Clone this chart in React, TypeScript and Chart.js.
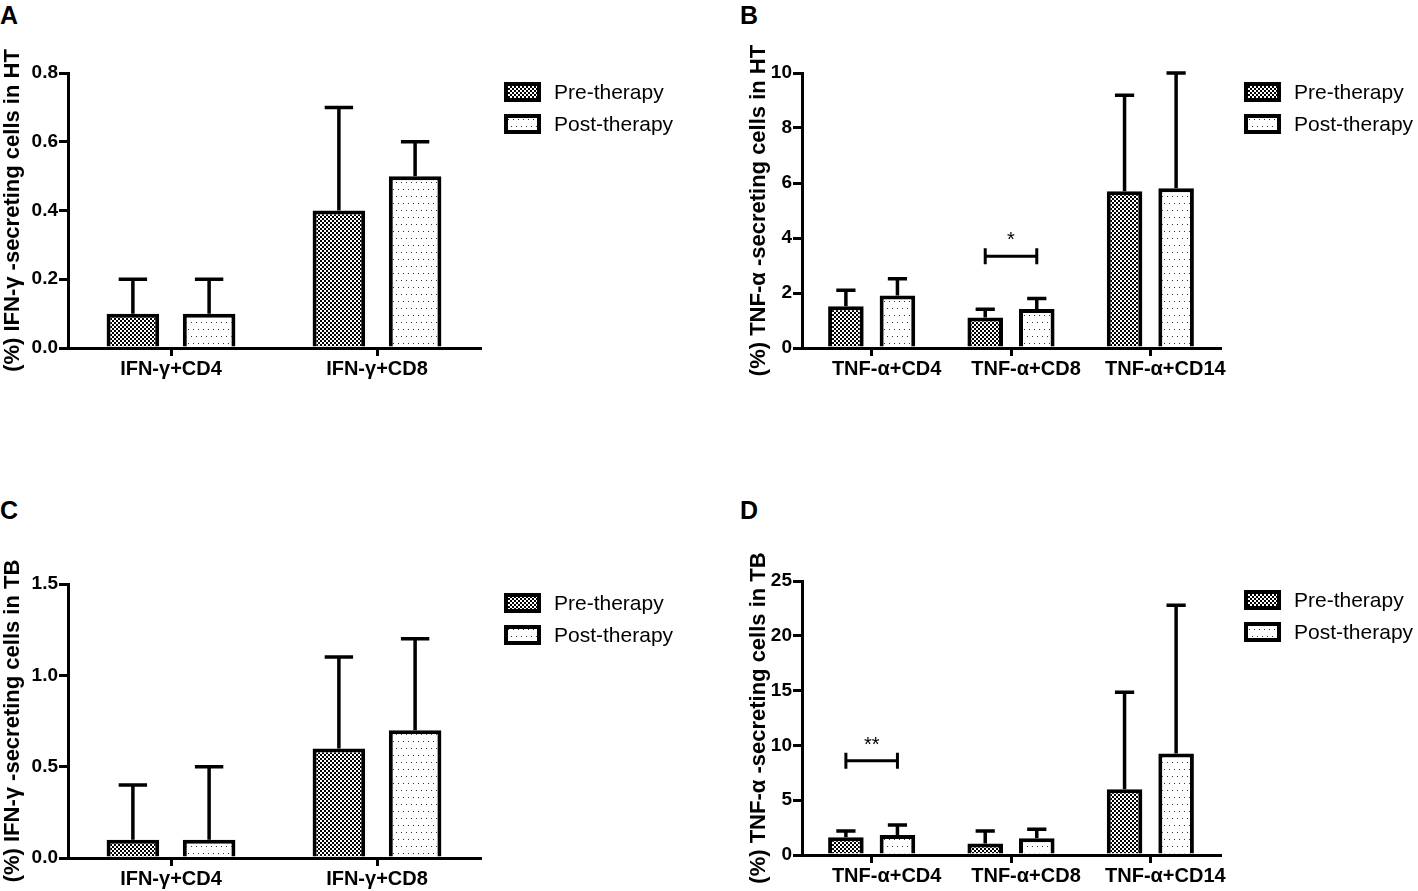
import React, { useRef, useEffect } from 'react';
import { Chart, registerables } from 'chart.js';

Chart.register(...registerables);

const FONT = '"Liberation Sans", Arial, Helvetica, sans-serif';

// shared labels
const seriesNames = ['Pre-therapy', 'Post-therapy'];
const ifnCategories = ['IFN-γ+CD4', 'IFN-γ+CD8'];
const tnfCategories = ['TNF-α+CD4', 'TNF-α+CD8', 'TNF-α+CD14'];

// A: IFN-γ in HT (bar value, top of SD whisker)
const ifnHtPre = [0.1, 0.4];
const ifnHtPreErr = [0.2, 0.7];
const ifnHtPost = [0.1, 0.5];
const ifnHtPostErr = [0.2, 0.6];
const ifnHtTicks = [0, 0.2, 0.4, 0.6, 0.8];

// B: TNF-α in HT
const tnfHtPre = [1.52, 1.11, 5.7];
const tnfHtPreErr = [2.1, 1.41, 9.19];
const tnfHtPost = [1.91, 1.42, 5.81];
const tnfHtPostErr = [2.52, 1.8, 10.0];
const tnfHtTicks = [0, 2, 4, 6, 8, 10];
const tnfHtSigCategory = 1;
const tnfHtSigLevel = 3.34;
const tnfHtSigText = '*';

// C: IFN-γ in TB
const ifnTbPre = [0.1, 0.6];
const ifnTbPreErr = [0.4, 1.1];
const ifnTbPost = [0.1, 0.7];
const ifnTbPostErr = [0.5, 1.2];
const ifnTbTicks = [0, 0.5, 1.0, 1.5];

// D: TNF-α in TB
const tnfTbPre = [1.61, 1.06, 6.01];
const tnfTbPreErr = [2.19, 2.19, 14.85];
const tnfTbPost = [1.82, 1.52, 9.26];
const tnfTbPostErr = [2.73, 2.34, 22.78];
const tnfTbTicks = [0, 5, 10, 15, 20, 25];
const tnfTbSigCategory = 0;
const tnfTbSigLevel = 8.6;
const tnfTbSigText = '**';

function makePattern(kind: 'check' | 'dots') {
    const c = document.createElement('canvas');
    const ctx = c.getContext('2d')!;
    if (kind === 'check') {
        c.width = 4;
        c.height = 4;
        ctx.fillStyle = '#fff';
        ctx.fillRect(0, 0, 4, 4);
        ctx.fillStyle = '#000';
        ctx.fillRect(0, 0, 2, 2);
        ctx.fillRect(2, 2, 2, 2);
    } else {
        c.width = 10;
        c.height = 14;
        ctx.fillStyle = '#fff';
        ctx.fillRect(0, 0, 10, 14);
        ctx.fillStyle = '#333';
        ctx.fillRect(1, 2, 1, 1);
        ctx.fillRect(6, 2, 1, 1);
        ctx.fillRect(3, 9, 1, 1);
        ctx.fillRect(8, 9, 1, 1);
    }
    return ctx.createPattern(c, 'repeat')!;
}

// whiskers (upper SD only) drawn from each bar top
const errorBars = (errs: number[][]) => ({
    id: 'errorBars',
    afterDatasetsDraw(chart: any) {
        const { ctx } = chart;
        const yScale = chart.scales.y;
        ctx.save();
        ctx.strokeStyle = '#000';
        ctx.lineWidth = 3.5;
        errs.forEach((row, i) => {
            chart.getDatasetMeta(i).data.forEach((bar: any, j: number) => {
                const { x, y, width } = bar.getProps(['x', 'y', 'width'], true);
                const ey = yScale.getPixelForValue(row[j]);
                const half = width * 0.27;
                ctx.beginPath();
                ctx.moveTo(x, y);
                ctx.lineTo(x, ey);
                ctx.moveTo(x - half, ey);
                ctx.lineTo(x + half, ey);
                ctx.stroke();
            });
        });
        ctx.restore();
    },
});

// significance bracket between the two bars of one category
const sigBracket = (category: number, level: number, text: string) => ({
    id: 'sigBracket',
    afterDatasetsDraw(chart: any) {
        const { ctx } = chart;
        const x1 = chart.getDatasetMeta(0).data[category].x;
        const x2 = chart.getDatasetMeta(1).data[category].x;
        const y = chart.scales.y.getPixelForValue(level);
        ctx.save();
        ctx.strokeStyle = '#000';
        ctx.lineWidth = 3;
        ctx.beginPath();
        ctx.moveTo(x1, y);
        ctx.lineTo(x2, y);
        ctx.moveTo(x1, y - 8);
        ctx.lineTo(x1, y + 8);
        ctx.moveTo(x2, y - 8);
        ctx.lineTo(x2, y + 8);
        ctx.stroke();
        ctx.fillStyle = '#000';
        ctx.font = `20px ${FONT}`;
        ctx.textAlign = 'center';
        ctx.textBaseline = 'alphabetic';
        ctx.fillText(text, (x1 + x2) / 2, y - 10);
        ctx.restore();
    },
});

// legend to the right of the plot
const sideLegend = {
    id: 'sideLegend',
    afterDraw(chart: any) {
        const { ctx, chartArea } = chart;
        const x0 = chartArea.right + 26;
        ctx.save();
        chart.data.datasets.forEach((ds: any, i: number) => {
            const cy = chartArea.top + 19 + i * 32;
            ctx.fillStyle = ds.backgroundColor;
            ctx.fillRect(x0, cy - 8, 33, 16);
            ctx.lineWidth = 4;
            ctx.strokeStyle = '#000';
            ctx.strokeRect(x0, cy - 8, 33, 16);
            ctx.fillStyle = '#000';
            ctx.font = `21px ${FONT}`;
            ctx.textAlign = 'left';
            ctx.textBaseline = 'middle';
            ctx.fillText(ds.label, x0 + 48, cy + 1);
        });
        ctx.restore();
    },
};

type PanelProps = {
    letter: string;
    left: number;
    top: number;
    width: number;
    plotTop: number;
    plotBottom: number;
    plotRight: number;
    yWidth: number;
    labelShift: number;
    categories: string[];
    pre: number[];
    post: number[];
    preErr: number[];
    postErr: number[];
    yTicks: number[];
    decimals: number;
    yTitle: string;
    sig?: [number, number, string];
};

const X_AXIS_H = 33;

const Panel = (p: PanelProps) => {
    const canvasRef = useRef<HTMLCanvasElement>(null);
    const chartRef = useRef<Chart | null>(null);
    const height = p.plotBottom + X_AXIS_H - p.top;

    useEffect(() => {
        const ctx = canvasRef.current?.getContext('2d');
        if (!ctx) return;
        if (chartRef.current) chartRef.current.destroy();

        const plugins: any[] = [errorBars([p.preErr, p.postErr]), sideLegend];
        if (p.sig) plugins.push(sigBracket(p.sig[0], p.sig[1], p.sig[2]));

        chartRef.current = new Chart(ctx, {
            type: 'bar',
            data: {
                labels: p.categories,
                datasets: [
                    {
                        label: seriesNames[0],
                        data: p.pre,
                        backgroundColor: makePattern('check') as any,
                        borderColor: '#000',
                        borderWidth: 4,
                        categoryPercentage: 0.74,
                        barPercentage: 0.69,
                    },
                    {
                        label: seriesNames[1],
                        data: p.post,
                        backgroundColor: makePattern('dots') as any,
                        borderColor: '#000',
                        borderWidth: 4,
                        categoryPercentage: 0.74,
                        barPercentage: 0.69,
                    },
                ],
            },
            options: {
                responsive: false,
                animation: false,
                layout: {
                    padding: {
                        top: p.plotTop - p.top,
                        right: p.width - (p.plotRight - p.left),
                        left: 0,
                        bottom: 0,
                    },
                },
                plugins: {
                    legend: { display: false },
                    tooltip: { enabled: false },
                },
                scales: {
                    x: {
                        offset: true,
                        grid: {
                            offset: false,
                            drawOnChartArea: false,
                            drawTicks: true,
                            tickLength: 8,
                            lineWidth: 3,
                            color: '#000',
                        },
                        border: { display: true, width: 3, color: '#000' },
                        ticks: {
                            color: '#000',
                            font: { family: FONT, size: 20, weight: 'bold' },
                            padding: 1,
                            labelOffset: p.labelShift,
                            maxRotation: 0,
                            autoSkip: false,
                        },
                        afterFit: (s: any) => {
                            s.height = X_AXIS_H;
                        },
                    },
                    y: {
                        min: 0,
                        max: p.yTicks[p.yTicks.length - 1],
                        afterBuildTicks: (s: any) => {
                            s.ticks = p.yTicks.map((v) => ({ value: v }));
                        },
                        grid: {
                            drawOnChartArea: false,
                            drawTicks: true,
                            tickLength: 9,
                            lineWidth: 3,
                            color: '#000',
                        },
                        border: { display: true, width: 3, color: '#000' },
                        ticks: {
                            color: '#000',
                            font: { family: FONT, size: 19, weight: 'bold' },
                            padding: 1,
                            callback: (v: any) => Number(v).toFixed(p.decimals),
                        },
                        title: {
                            display: true,
                            text: p.yTitle,
                            color: '#000',
                            font: { family: FONT, size: 22, weight: 'bold' },
                            padding: { top: 0, bottom: 0 },
                        },
                        afterFit: (s: any) => {
                            s.width = p.yWidth;
                        },
                    },
                },
            },
            plugins,
        });

        return () => {
            if (chartRef.current) {
                chartRef.current.destroy();
                chartRef.current = null;
            }
        };
    }, []);

    return (
        <>
            <canvas
                ref={canvasRef}
                width={p.width}
                height={height}
                style={{ position: 'absolute', left: p.left, top: p.top, width: p.width, height }}
            />
            <div
                style={{
                    position: 'absolute',
                    left: p.left === 0 ? 0 : 740,
                    top: p.plotTop < 300 ? 3 : 498,
                    font: `bold 25px ${FONT}`,
                    lineHeight: '25px',
                    color: '#000',
                }}
            >
                {p.letter}
            </div>
        </>
    );
};

const App = () => {
    return (
        <div
            style={{
                position: 'absolute',
                left: 0,
                top: 0,
                width: 1418,
                height: 891,
                overflow: 'hidden',
                background: '#fff',
            }}
        >
            <Panel
                letter="A"
                left={0}
                top={40}
                width={700}
                plotTop={73}
                plotBottom={348}
                plotRight={480}
                yWidth={68}
                labelShift={0}
                categories={ifnCategories}
                pre={ifnHtPre}
                post={ifnHtPost}
                preErr={ifnHtPreErr}
                postErr={ifnHtPostErr}
                yTicks={ifnHtTicks}
                decimals={1}
                yTitle="(%) IFN-γ -secreting cells in HT"
            />
            <Panel
                letter="B"
                left={746}
                top={40}
                width={672}
                plotTop={73}
                plotBottom={348}
                plotRight={1220}
                yWidth={56}
                labelShift={15}
                categories={tnfCategories}
                pre={tnfHtPre}
                post={tnfHtPost}
                preErr={tnfHtPreErr}
                postErr={tnfHtPostErr}
                yTicks={tnfHtTicks}
                decimals={0}
                yTitle="(%) TNF-α -secreting cells in HT"
                sig={[tnfHtSigCategory, tnfHtSigLevel, tnfHtSigText]}
            />
            <Panel
                letter="C"
                left={0}
                top={550}
                width={700}
                plotTop={584}
                plotBottom={858}
                plotRight={480}
                yWidth={68}
                labelShift={0}
                categories={ifnCategories}
                pre={ifnTbPre}
                post={ifnTbPost}
                preErr={ifnTbPreErr}
                postErr={ifnTbPostErr}
                yTicks={ifnTbTicks}
                decimals={1}
                yTitle="(%) IFN-γ -secreting cells in TB"
            />
            <Panel
                letter="D"
                left={746}
                top={550}
                width={672}
                plotTop={581}
                plotBottom={855}
                plotRight={1220}
                yWidth={56}
                labelShift={15}
                categories={tnfCategories}
                pre={tnfTbPre}
                post={tnfTbPost}
                preErr={tnfTbPreErr}
                postErr={tnfTbPostErr}
                yTicks={tnfTbTicks}
                decimals={0}
                yTitle="(%) TNF-α -secreting cells in TB"
                sig={[tnfTbSigCategory, tnfTbSigLevel, tnfTbSigText]}
            />
        </div>
    );
};

export default App;
